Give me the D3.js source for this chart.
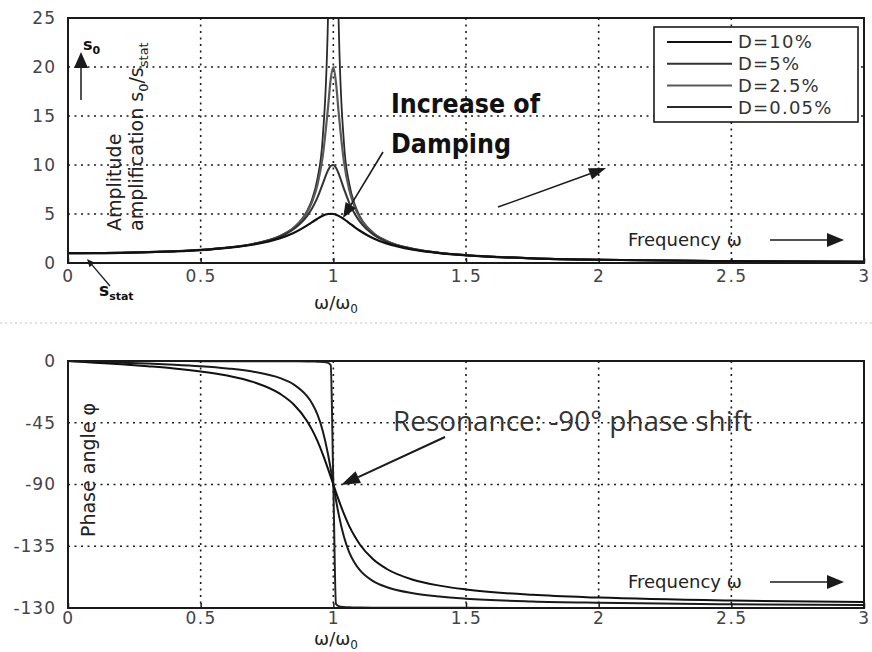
<!DOCTYPE html>
<html>
<head>
<meta charset="utf-8">
<script src="https://cdn.jsdelivr.net/npm/d3@7/dist/d3.min.js"></script>
<style>
  body { margin: 0; background: #fff; }
  svg { display: block; }
</style>
</head>
<body>
<svg id="chart" width="872" height="652"></svg>
<script>
// Frequency ratio omega/omega0 at which the responses are sampled
const ratio = [0, 0.1, 0.2, 0.3, 0.4, 0.5, 0.6, 0.7, 0.8, 0.85, 0.9, 0.92, 0.94, 0.96, 0.98, 0.99,
               1.0, 1.01, 1.02, 1.04, 1.06, 1.08, 1.1, 1.15, 1.2, 1.3, 1.4, 1.5, 1.75, 2.0, 2.5, 3.0];

// Amplitude amplification s0/sstat for each damping ratio
const amp10  = [1, 1.01, 1.04, 1.10, 1.19, 1.32, 1.54, 1.89, 2.54, 3.07, 3.82, 4.17, 4.52, 4.82, 5.00, 5.02,
                5.00, 4.93, 4.81, 4.48, 4.08, 3.67, 3.29, 2.53, 2.00, 1.36, 1.00, 0.78, 0.48, 0.33, 0.19, 0.125];
const amp5   = [1, 1.01, 1.04, 1.10, 1.19, 1.33, 1.56, 1.94, 2.71, 3.45, 4.76, 5.59, 6.68, 8.07, 9.46, 9.90,
                10.0, 9.71, 9.12, 7.57, 6.14, 5.04, 4.22, 2.92, 2.19, 1.42, 1.03, 0.79, 0.48, 0.33, 0.19, 0.125];
const amp2_5 = [1, 1.01, 1.04, 1.10, 1.19, 1.33, 1.56, 1.96, 2.76, 3.56, 5.12, 6.24, 7.97, 10.88, 15.87, 18.74,
                20.0, 18.40, 15.37, 10.34, 7.44, 5.72, 4.61, 3.05, 2.25, 1.44, 1.04, 0.80, 0.48, 0.33, 0.19, 0.125];
const amp0_05 = [1, 1.01, 1.04, 1.10, 1.19, 1.33, 1.56, 1.96, 2.78, 3.60, 5.26, 6.51, 8.59, 12.76, 25.2, 50,
                1000, 49.7, 24.7, 12.25, 8.09, 6.01, 4.76, 3.10, 2.27, 1.45, 1.04, 0.80, 0.48, 0.33, 0.19, 0.125];

// Phase angle (degrees)
const phase10 = [0, -1.2, -2.4, -3.8, -5.4, -7.6, -10.6, -15.4, -24.0, -31.5, -43.5, -50.2, -58.2, -67.8, -78.6, -84.3,
                 -90, -95.7, -101.2, -111.4, -120.3, -127.6, -133.7, -144.5, -151.4, -159.4, -163.7, -166.5, -170.4, -172.4, -174.6, -175.7];
const phase5  = [0, -0.6, -1.2, -1.9, -2.7, -3.8, -5.4, -7.8, -12.5, -17.0, -25.4, -30.9, -38.9, -50.8, -68.0, -78.6,
                 -90, -101.3, -111.6, -128.1, -139.4, -147.0, -152.4, -160.4, -164.7, -169.3, -171.7, -173.2, -175.2, -176.2, -177.3, -177.9];
const phase0_05 = [0, 0, 0, 0, 0, -0.1, -0.1, -0.1, -0.1, -0.2, -0.3, -0.3, -0.5, -0.7, -1.4, -2.9,
                 -90, -177.1, -178.6, -179.3, -179.5, -179.6, -179.7, -179.8, -179.8, -179.9, -179.9, -179.9, -180, -180, -180, -180];

// Legend entries
const legendLabels = ["D=10%", "D=5%", "D=2.5%", "D=0.05%"];

// Ticks and their labels
const xTicks = [0, 0.5, 1, 1.5, 2, 2.5, 3];
const xTickLabels = ["0", "0.5", "1", "1.5", "2", "2.5", "3"];
const ampTicks = [0, 5, 10, 15, 20, 25];
const ampTickLabels = ["0", "5", "10", "15", "20", "25"];
const phaseTicks = [0, -45, -90, -135, -180];
const phaseTickLabels = ["0", "-45", "-90", "-135", "-130"];

const svg = d3.select("#chart");
const INK = "#1a1a1a";
const TICKFONT = "'DejaVu Sans', sans-serif";

// Panel geometry
const left = 68, right = 864;
const top1 = 18, bot1 = 263;
const top2 = 361, bot2 = 608;

const x = d3.scaleLinear().domain([0, 3]).range([left, right]);
const yAmp = d3.scaleLinear().domain([0, 25]).range([bot1, top1]);
const yPh = d3.scaleLinear().domain([-180, 0]).range([bot2, top2]);

// faint separator between the two panels
svg.append("line").attr("x1", 0).attr("x2", 872).attr("y1", 323).attr("y2", 323)
  .attr("stroke", "#d8d8d8").attr("stroke-width", 1.5).attr("stroke-dasharray", "2,3");

const defs = svg.append("defs");
defs.append("clipPath").attr("id", "clipTop").append("rect")
  .attr("x", left).attr("y", top1).attr("width", right - left).attr("height", bot1 - top1);
defs.append("clipPath").attr("id", "clipBot").append("rect")
  .attr("x", left).attr("y", top2).attr("width", right - left).attr("height", bot2 - top2);

function panel(yScale, yTicks, yLabels, yTop, yBot, pad) {
  const g = svg.append("g");
  // dotted grid
  g.selectAll(".gx").data(xTicks.slice(1, -1)).join("line")
    .attr("x1", d => x(d)).attr("x2", d => x(d)).attr("y1", yTop).attr("y2", yBot)
    .attr("stroke", INK).attr("stroke-width", 1.6).attr("stroke-dasharray", "2,4.5");
  g.selectAll(".gy").data(yTicks.filter(d => yScale(d) > yTop + 1 && yScale(d) < yBot - 1)).join("line")
    .attr("x1", left).attr("x2", right).attr("y1", d => yScale(d)).attr("y2", d => yScale(d))
    .attr("stroke", INK).attr("stroke-width", 1.6).attr("stroke-dasharray", "2,4.5");

  // x axis labels
  const xa = g.append("g").attr("transform", `translate(0,${yBot})`)
    .call(d3.axisBottom(x).tickValues(xTicks).tickSize(0).tickPadding(pad)
      .tickFormat((d, i) => xTickLabels[i]));
  xa.select(".domain").remove();
  xa.selectAll(".tick").append("line").attr("y1", 0).attr("y2", -5)
    .attr("stroke", INK).attr("stroke-width", 1.5);
  xa.selectAll("text").attr("font-family", TICKFONT).attr("font-size", 17)
    .attr("fill", "#444").attr("letter-spacing", 1.5);

  // y axis labels
  const ya = g.append("g").attr("transform", `translate(${left},0)`)
    .call(d3.axisLeft(yScale).tickValues(yTicks).tickSize(0).tickPadding(12)
      .tickFormat((d, i) => yLabels[i]));
  ya.select(".domain").remove();
  ya.selectAll("text").attr("font-family", TICKFONT).attr("font-size", 17)
    .attr("fill", "#444").attr("letter-spacing", 1);
  return g;
}

panel(yAmp, ampTicks, ampTickLabels, top1, bot1, 7);
panel(yPh, phaseTicks, phaseTickLabels, top2, bot2, 4);

// curves
const ampSeries = [
  { v: amp0_05, color: "#2a2a2a", w: 1.8 },
  { v: amp2_5, color: "#5a5a5a", w: 2.2 },
  { v: amp5, color: "#333", w: 2 },
  { v: amp10, color: "#111", w: 2.2 }
];
const lineAmp = d3.line().x((d, i) => x(ratio[i])).y(d => yAmp(d)).curve(d3.curveMonotoneX);
const gTop = svg.append("g").attr("clip-path", "url(#clipTop)");
ampSeries.forEach(s => {
  gTop.append("path").datum(s.v).attr("d", lineAmp)
    .attr("fill", "none").attr("stroke", s.color).attr("stroke-width", s.w);
});

const phaseSeries = [
  { v: phase0_05, color: "#222", w: 2 },
  { v: phase5, color: "#1a1a1a", w: 2 },
  { v: phase10, color: "#111", w: 2 }
];
const linePh = d3.line().x((d, i) => x(ratio[i])).y(d => yPh(d)).curve(d3.curveMonotoneX);
const gBot = svg.append("g").attr("clip-path", "url(#clipBot)");
phaseSeries.forEach(s => {
  gBot.append("path").datum(s.v).attr("d", linePh)
    .attr("fill", "none").attr("stroke", s.color).attr("stroke-width", s.w);
});

// panel frames
[[top1, bot1], [top2, bot2]].forEach(([t, b]) => {
  svg.append("rect").attr("x", left).attr("y", t).attr("width", right - left).attr("height", b - t)
    .attr("fill", "none").attr("stroke", INK).attr("stroke-width", 2);
});

// legend
const lg = svg.append("g");
lg.append("rect").attr("x", 654).attr("y", 27).attr("width", 204).attr("height", 95)
  .attr("fill", "#fff").attr("stroke", INK).attr("stroke-width", 1.6);
const legendColors = ["#111", "#333", "#5a5a5a", "#2a2a2a"];
legendLabels.forEach((t, i) => {
  const yy = 42 + i * 21.7;
  lg.append("line").attr("x1", 667).attr("x2", 732).attr("y1", yy).attr("y2", yy)
    .attr("stroke", legendColors[i]).attr("stroke-width", 2);
  lg.append("text").attr("x", 738).attr("y", yy).attr("dy", "0.36em")
    .attr("font-family", TICKFONT).attr("font-size", 18).attr("fill", "#333")
    .attr("letter-spacing", 1.2).text(t);
});

// arrow helper: straight shaft ending in a filled triangular head
function arrow(x1, y1, x2, y2, hl, hw, sw) {
  const a = Math.atan2(y2 - y1, x2 - x1);
  const bx = x2 - hl * Math.cos(a), by = y2 - hl * Math.sin(a);
  const px = -Math.sin(a) * hw / 2, py = Math.cos(a) * hw / 2;
  svg.append("line").attr("x1", x1).attr("y1", y1).attr("x2", bx).attr("y2", by)
    .attr("stroke", INK).attr("stroke-width", sw || 1.6);
  svg.append("path").attr("d", `M${x2},${y2}L${bx + px},${by + py}L${bx - px},${by - py}Z`)
    .attr("fill", INK);
}

// axis titles
function omegaTitle(yy) {
  const t = svg.append("text").attr("x", 336).attr("y", yy).attr("text-anchor", "middle")
    .attr("font-family", TICKFONT).attr("font-size", 18).attr("fill", "#222");
  t.append("tspan").text("ω/ω");
  t.append("tspan").attr("dy", 4).attr("font-size", 12).text("0");
}
omegaTitle(309);
omegaTitle(645);

// amplitude axis title (two rotated lines)
const ampTitle = svg.append("g").attr("font-family", TICKFONT).attr("font-size", 19).attr("fill", "#222");
ampTitle.append("text").attr("transform", "translate(121,231) rotate(-90)").text("Amplitude");
const l2 = ampTitle.append("text").attr("transform", "translate(143,231) rotate(-90)");
l2.append("tspan").text("amplification s");
l2.append("tspan").attr("dy", 5).attr("font-size", 13).text("0");
l2.append("tspan").attr("dy", -5).text("/s");
l2.append("tspan").attr("dy", 5).attr("font-size", 13).text("stat");

// phase axis title
svg.append("text").attr("transform", "translate(95,470) rotate(-90)").attr("text-anchor", "middle")
  .attr("font-family", TICKFONT).attr("font-size", 19).attr("fill", "#222").text("Phase angle φ");

// s0 marker
const s0 = svg.append("text").attr("x", 83).attr("y", 50).attr("font-family", TICKFONT)
  .attr("font-size", 16).attr("font-weight", "bold").attr("fill", "#111");
s0.append("tspan").text("s");
s0.append("tspan").attr("dy", 4).attr("font-size", 11).text("0");
arrow(81, 100, 81, 52, 16, 14, 1.5);

// s_stat marker
const ss = svg.append("text").attr("x", 99).attr("y", 296).attr("font-family", TICKFONT)
  .attr("font-size", 17).attr("font-weight", "bold").attr("fill", "#111");
ss.append("tspan").text("s");
ss.append("tspan").attr("dy", 4).attr("font-size", 11).text("stat");
arrow(110, 286, 87, 259, 8, 7, 1.3);

// damping annotation
const dmp = svg.append("g").attr("font-family", "'DejaVu Sans Condensed', 'DejaVu Sans', sans-serif")
  .attr("font-weight", "bold").attr("font-size", 26).attr("fill", "#111");
dmp.append("text").attr("x", 391).attr("y", 113).attr("textLength", 149)
  .attr("lengthAdjust", "spacingAndGlyphs").text("Increase of");
dmp.append("text").attr("x", 391).attr("y", 153).attr("textLength", 120)
  .attr("lengthAdjust", "spacingAndGlyphs").text("Damping");
arrow(383, 152, 343, 218, 15, 12, 1.6);
arrow(498, 207, 606, 168, 17, 12, 1.4);

// frequency direction labels
function freqLabel(yy) {
  const t = svg.append("text").attr("x", 628).attr("y", yy).attr("dy", "0.35em")
    .attr("font-family", TICKFONT).attr("font-size", 18).attr("fill", "#222");
  t.text("Frequency ω");
  arrow(770, yy, 844, yy, 17, 14, 1.5);
}
freqLabel(240);
freqLabel(582);

// resonance annotation
svg.append("text").attr("x", 393).attr("y", 431)
  .attr("font-family", "'Open Sans', sans-serif").attr("font-weight", 400)
  .attr("font-size", 27).attr("fill", "#333").attr("textLength", 359)
  .attr("lengthAdjust", "spacingAndGlyphs").text("Resonance: -90° phase shift");
arrow(445, 437, 341, 485, 19, 13, 2);
</script>
</body>
</html>
